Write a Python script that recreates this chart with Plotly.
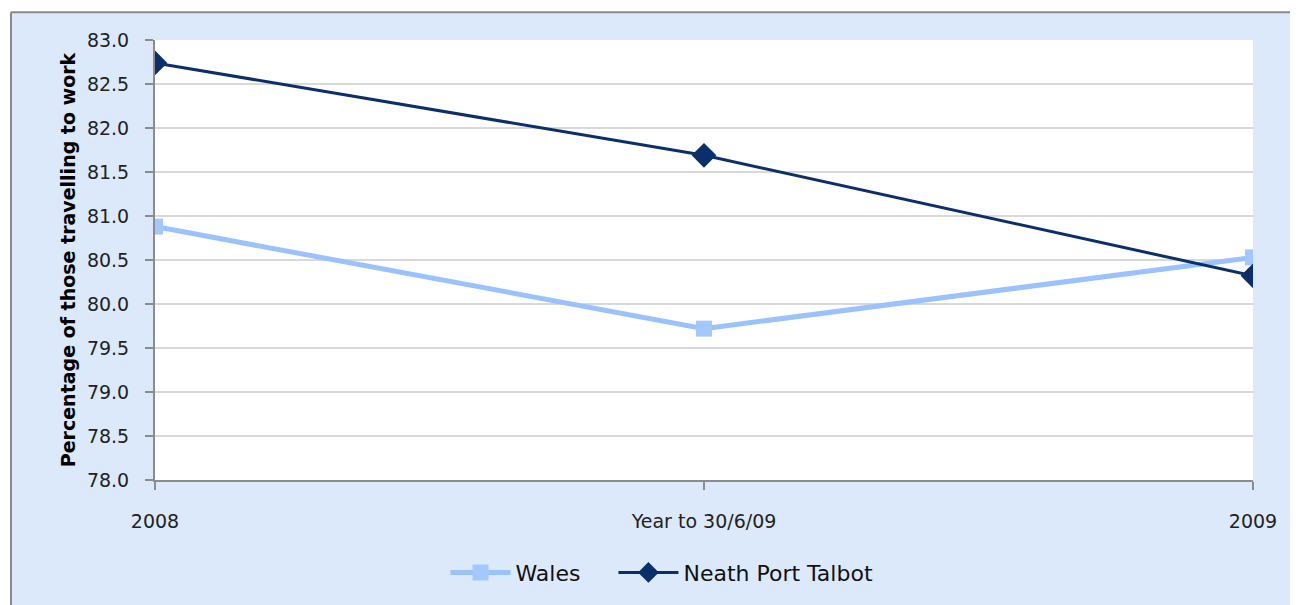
import plotly.graph_objects as go

categories = ["2008", "Year to 30/6/09", "2009"]
wales = [80.88, 79.72, 80.53]
neath = [82.74, 81.69, 80.32]
y_ticks = [78.0, 78.5, 79.0, 79.5, 80.0, 80.5, 81.0, 81.5, 82.0, 82.5, 83.0]

W, H = 1290, 597
L, R, T, B = 147, 45, 32, 123
pw, ph = W - L - R, H - T - B

def px_x(x):
    return (x - L) / pw

def px_y(y):
    return 1 - (y - T) / ph

fig = go.Figure()
fig.add_trace(go.Scatter(
    x=categories, y=wales, name="Wales\u00a0\u00a0\u00a0\u00a0", mode="lines+markers",
    line=dict(color="#99c2ff", width=5),
    marker=dict(symbol="square", size=16, color="#a3c8ff"),
))
fig.add_trace(go.Scatter(
    x=categories, y=neath, name="Neath Port Talbot", mode="lines+markers",
    line=dict(color="#0b2f6b", width=3),
    marker=dict(symbol="diamond", size=19, color="#0b2f6b"),
))

frame = "#8a8a8a"
fig.update_layout(
    width=W, height=H,
    paper_bgcolor="#dbe9fb", plot_bgcolor="#ffffff",
    margin=dict(l=L, r=R, t=T, b=B),
    font=dict(family="DejaVu Sans", size=18, color="#222222"),
    showlegend=True,
    legend=dict(orientation="h", x=px_x(662 - 8), xanchor="center",
                y=px_y(575 - 8), yanchor="middle",
                font=dict(size=22, color="#111111"), bgcolor="rgba(0,0,0,0)",
                itemwidth=60),
    shapes=[
        dict(type="rect", xref="paper", yref="paper",
             x0=px_x(-5), x1=px_x(3), y0=px_y(H + 5), y1=px_y(-5),
             line=dict(width=0), fillcolor="#ffffff"),
        dict(type="rect", xref="paper", yref="paper",
             x0=px_x(-5), x1=px_x(W + 5), y0=px_y(4), y1=px_y(-5),
             line=dict(width=0), fillcolor="#ffffff"),
        dict(type="line", xref="paper", yref="paper",
             x0=px_x(3), x1=px_x(W + 5), y0=px_y(4), y1=px_y(4),
             line=dict(color=frame, width=2)),
        dict(type="line", xref="paper", yref="paper",
             x0=px_x(3), x1=px_x(3), y0=px_y(4), y1=px_y(H + 5),
             line=dict(color=frame, width=2)),
    ],
)
fig.update_xaxes(
    type="category", range=[0, 2], showgrid=False,
    showline=True, linecolor="#8c8c8c", linewidth=2,
    ticks="outside", ticklen=8, tickcolor="#8c8c8c", tickwidth=2,
    ticklabelstandoff=15, tickfont=dict(size=19, color="#222222"),
)
fig.update_yaxes(
    range=[78, 83], tickvals=y_ticks, ticktext=[f"{v:.1f}" for v in y_ticks],
    showgrid=True, gridcolor="#d9d9d9", gridwidth=2,
    showline=True, linecolor="#8c8c8c", linewidth=2,
    ticks="outside", ticklen=8, tickcolor="#8c8c8c", tickwidth=2,
    ticklabelstandoff=12, tickfont=dict(size=19, color="#222222"), zeroline=False,
    title=dict(text="<b>Percentage of those travelling to work</b>",
               font=dict(size=19, color="#000000"), standoff=6),
)

fig.write_html("out.html")
